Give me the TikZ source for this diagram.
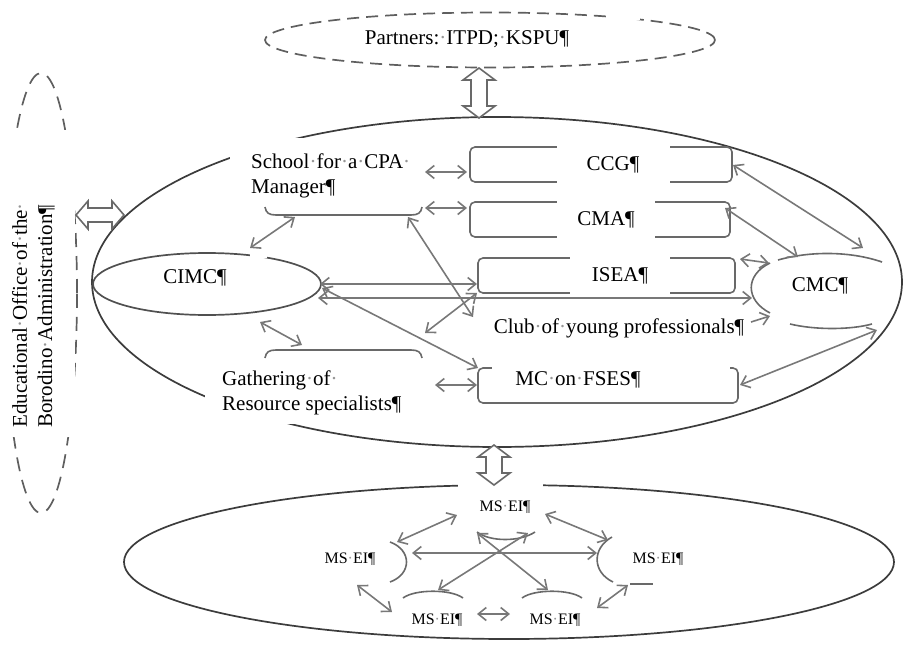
\documentclass[tikz,border=0pt]{standalone}
\usepackage{fontspec}
\setmainfont{Liberation Serif}
\usetikzlibrary{arrows.meta}
\definecolor{ringc}{RGB}{60,60,60}
\definecolor{connc}{RGB}{120,120,120}
\definecolor{boxc}{RGB}{105,105,105}
\definecolor{dashc}{RGB}{95,95,95}
\definecolor{dotc}{RGB}{150,150,150}
\newcommand{\spdot}{{\color{dotc}·}}
\begin{document}
\begin{tikzpicture}[x=1pt,y=-1pt,
  lbl/.style={font=\fontsize{21}{24.5}\selectfont, inner sep=0pt, align=left},
  slbl/.style={font=\fontsize{16}{18}\selectfont, inner sep=0pt},
  ring/.style={draw=ringc, line width=1.7pt},
  dashring/.style={draw=dashc, line width=1.7pt, dash pattern=on 12pt off 7pt},
  box/.style={draw=boxc, line width=1.6pt, rounded corners=5pt, inner sep=0pt},
  conn/.style={draw=connc, line width=1.6pt, {Straight Barb[length=8pt,width=13pt]}-{Straight Barb[length=8pt,width=13pt]}},
  conna/.style={draw=connc, line width=1.6pt, -{Straight Barb[length=8pt,width=13pt]}},
  part/.style={draw=boxc, line width=1.6pt},
  hollowline/.style={draw=boxc, fill=white, line width=1.6pt, line join=miter},
  vhollow/.pic={\draw[hollowline] (0,-#1) -- (16,-#1+12) -- (8,-#1+12) -- (8,#1-12) -- (16,#1-12) -- (0,#1) -- (-16,#1-12) -- (-8,#1-12) -- (-8,-#1+12) -- (-16,-#1+12) -- cycle;},
  hhollow/.pic={\draw[hollowline] (-#1,0) -- (-#1+12,14) -- (-#1+12,7) -- (#1-12,7) -- (#1-12,14) -- (#1,0) -- (#1-12,-14) -- (#1-12,-7) -- (-#1+12,-7) -- (-#1+12,-14) -- cycle;}
]
\useasboundingbox (0,0) rectangle (903,648);

% ---------- rings ----------
\draw[ring] (497,282) ellipse [x radius=405pt, y radius=165pt];
\draw[ring] (509,562) ellipse [x radius=385pt, y radius=77pt];
\draw[dashring, dash pattern=on 14pt off 9pt] (41,293) ellipse [x radius=36pt, y radius=220pt];
\draw[dashring] (490,40) ellipse [x radius=225pt, y radius=27.5pt];
\draw[ring, draw=ringc!90] (207,284) ellipse [x radius=114pt, y radius=31pt];

% ---------- boxes ----------
\node[box, minimum width=262pt, minimum height=35pt] (ccgbox) at (601,164.5) {};
\node[box, minimum width=260pt, minimum height=35pt] (cmabox) at (600,219.5) {};
\node[box, minimum width=257pt, minimum height=35pt] (iseabox) at (606.5,275.5) {};
\node[box, minimum width=260pt, minimum height=35pt] (mcbox) at (608,385.5) {};

% ---------- white covers ----------
\fill[white] (4,130) rectangle (74.5,437);
\fill[white] (230,138) rectangle (420,200);
\fill[white] (205,362) rectangle (430,424);
\fill[white] (492,357) rectangle (730,396);
\fill[white] (458,482) rectangle (543,525);
\fill[white] (610,6) rectangle (640,20);
\fill[white] (250,247) rectangle (267,258);

% ---------- partial shapes ----------
\draw[part] (265,207) .. controls (266,213) and (269,215) .. (276,215) -- (411,215) .. controls (418,215) and (421,213) .. (422,207);
\draw[part] (265,358) .. controls (266,352) and (269,350) .. (276,350) -- (411,350) .. controls (418,350) and (421,352) .. (422,358);
\draw[part] (770,263) .. controls (745,275) and (745,300) .. (770,313);
\draw[part] (778,260) .. controls (810,251) and (850,251) .. (882,262);
\draw[part] (790,324) .. controls (815,330) and (850,330) .. (872,324);
\draw[part] (477,532) .. controls (490,542) and (520,542) .. (535,532);
\draw[part] (390,542) .. controls (412,550) and (412,574) .. (390,582);
\draw[part] (612,537) .. controls (592,548) and (592,572) .. (613,582);
\draw[part] (403,598) .. controls (415,589) and (451,589) .. (463,598);
\draw[part] (522,598) .. controls (534,589) and (570,589) .. (582,598);
\draw[part] (630,584) -- (653,584);

% ---------- texts ----------
\node[lbl] (partners) at (467,39) {Partners:\spdot ITPD;\spdot KSPU¶};
\node[lbl, rotate=90, anchor=base west] (edu1) at (27,428) {Educational\spdot Office\spdot of\spdot the\spdot};
\node[lbl, rotate=90, anchor=base west] (edu2) at (52,428) {Borodino\spdot Administration¶};
\node[lbl, anchor=west] (school) at (251,176) {School\spdot for\spdot a\spdot CPA\spdot\\Manager¶};
\node[lbl, anchor=west] (gather) at (222,393) {Gathering\spdot of\spdot\\Resource specialists¶};
\node[lbl] (cimc) at (195,278) {CIMC¶};
\node[lbl, fill=white, minimum width=113pt, minimum height=46pt] (ccg) at (613,164.5) {CCG¶};
\node[lbl, fill=white, minimum width=98pt, minimum height=44pt] (cma) at (606,219.5) {CMA¶};
\node[lbl, fill=white, minimum width=100pt, minimum height=41pt] (isea) at (620,275.5) {ISEA¶};
\node[lbl] (club) at (619,328) {Club\spdot of\spdot young professionals¶};
\node[lbl] (mc) at (578,380) {MC\spdot on\spdot FSES¶};
\node[lbl] (cmc) at (820,286) {CMC¶};
\node[slbl] (ms1) at (505,507) {MS\spdot EI¶};
\node[slbl] (ms2) at (350,559) {MS\spdot EI¶};
\node[slbl] (ms3) at (658,559) {MS\spdot EI¶};
\node[slbl] (ms4) at (437,620) {MS\spdot EI¶};
\node[slbl] (ms5) at (555,620) {MS\spdot EI¶};

% ---------- hollow arrows ----------
\pic at (479,93) {vhollow=25};
\pic at (494,465) {vhollow=20};
\pic at (100,215) {hhollow=24};

% ---------- connector end points ----------
\coordinate (a1) at (425,172); \coordinate (b1) at (467,172);
\coordinate (a2) at (425,208); \coordinate (b2) at (467,208);
\coordinate (a3) at (295,217); \coordinate (b3) at (250,248);
\coordinate (a4) at (408,217); \coordinate (b4) at (473,317);
\coordinate (a5) at (320,284); \coordinate (b5) at (477,284);
\coordinate (a6) at (318,298); \coordinate (b6) at (752,298);
\coordinate (a7) at (322,288); \coordinate (b7) at (478,368);
\coordinate (a8) at (425,333); \coordinate (b8) at (477,293);
\coordinate (a9) at (260,322); \coordinate (b9) at (302,345);
\coordinate (a10) at (435,385); \coordinate (b10) at (477,385);
\coordinate (a11) at (740,259); \coordinate (b11) at (769,263);
\coordinate (a12) at (751,322); \coordinate (b12) at (770,316);
\coordinate (a13) at (733,165); \coordinate (b13) at (863,248);
\coordinate (a14) at (725,208); \coordinate (b14) at (798,257);
\coordinate (a15) at (740,385); \coordinate (b15) at (877,330);
\coordinate (a16) at (457,515); \coordinate (b16) at (397,542);
\coordinate (a17) at (545,514); \coordinate (b17) at (608,540);
\coordinate (a18) at (412,553); \coordinate (b18) at (597,553);
\coordinate (a19) at (438,590); \coordinate (b19) at (528,533);
\coordinate (a20) at (477,533); \coordinate (b20) at (548,590);
\coordinate (a21) at (357,585); \coordinate (b21) at (392,612);
\coordinate (a22) at (477,614); \coordinate (b22) at (510,614);
\coordinate (a23) at (597,608); \coordinate (b23) at (628,585);

% ---------- connectors ----------
\foreach \i in {1,...,11,13,14,15,16,17,18,19,20,21,22,23}{
  \draw[conn] (a\i) -- (b\i);
}
\draw[conna] (a12) -- (b12);
\end{tikzpicture}
\end{document}
